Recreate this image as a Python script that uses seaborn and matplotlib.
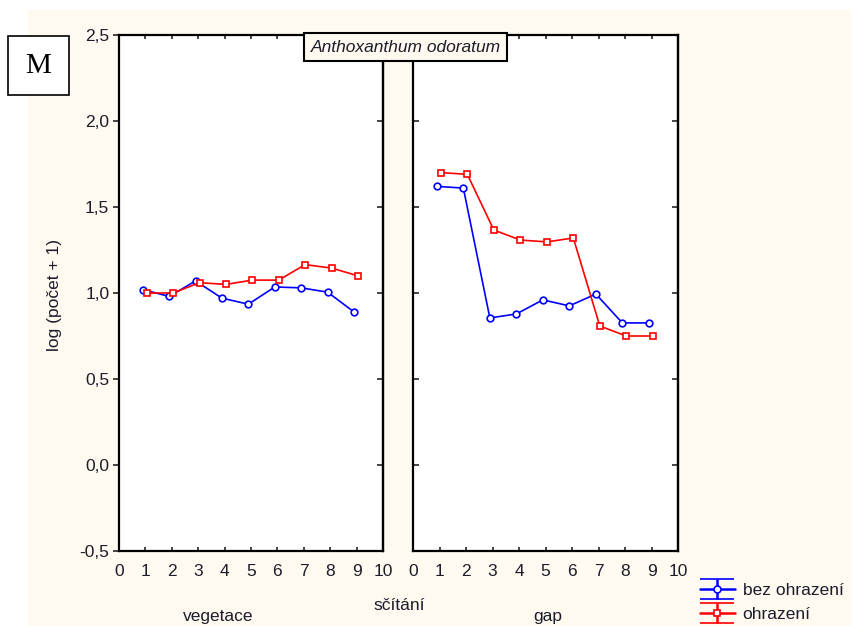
import numpy as np
import pandas as pd
import matplotlib
matplotlib.use("Agg")
import matplotlib.pyplot as plt
from matplotlib.patches import Rectangle
from matplotlib.ticker import FuncFormatter
from matplotlib.legend_handler import HandlerErrorbar
import seaborn as sns

# Sampling occasions (sčítání) and mean log(count + 1) per treatment
scitani = [1, 2, 3, 4, 5, 6, 7, 8, 9]
vegetace_bez = [1.02, 0.98, 1.07, 0.97, 0.935, 1.035, 1.03, 1.005, 0.89]
vegetace_ohr = [1.00, 1.00, 1.06, 1.05, 1.075, 1.075, 1.165, 1.145, 1.10]
gap_bez = [1.62, 1.61, 0.855, 0.878, 0.96, 0.925, 0.994, 0.826, 0.826]
gap_ohr = [1.70, 1.69, 1.366, 1.308, 1.297, 1.32, 0.808, 0.75, 0.75]

skupiny = ["bez ohrazení", "ohrazení"]
plochy = ["vegetace", "gap"]
nazev = "Anthoxanthum odoratum"
y_popis = "log (počet + 1)"
x_popis = "sčítání"
y_ticks = [-0.5, 0.0, 0.5, 1.0, 1.5, 2.0, 2.5]
x_ticks = list(range(0, 11))

barvy = {"bez ohrazení": "#0000ff", "ohrazení": "#ff0000"}
znacky = {"bez ohrazení": "o", "ohrazení": "s"}
posun = {"bez ohrazení": -0.1, "ohrazení": 0.05}  # small dodge so markers don't overlap

rows = []
for plocha, bez, ohr in [("vegetace", vegetace_bez, vegetace_ohr),
                         ("gap", gap_bez, gap_ohr)]:
    for skupina, vals in [("bez ohrazení", bez), ("ohrazení", ohr)]:
        for s, v in zip(scitani, vals):
            rows.append({"plocha": plocha, "skupina": skupina,
                         "scitani": s, "hodnota": v})
df = pd.DataFrame(rows)
df["x"] = df["scitani"] + df["skupina"].map(posun)

sns.set_theme(style="ticks")
plt.rcParams["font.family"] = ["Liberation Sans", "DejaVu Sans"]

W, H = 851, 626
fig = plt.figure(figsize=(W / 100, H / 100), dpi=100, facecolor="white")

cream = "#fffaf0"
fig.patches.append(Rectangle((28 / W, 0), 1 - 28 / W, 1 - 10 / H,
                             transform=fig.transFigure, facecolor=cream,
                             edgecolor="none", zorder=-10))

FS = 12.5
txt_col = "#1c1c2c"
comma = FuncFormatter(lambda v, p: f"{v:.1f}".replace(".", ","))

ax_bottom = 1 - 551 / H
ax_height = (551 - 35) / H
axes = [fig.add_axes([119 / W, ax_bottom, 264 / W, ax_height]),
        fig.add_axes([413 / W, ax_bottom, 265 / W, ax_height])]

for ax, plocha in zip(axes, plochy):
    sub = df[df["plocha"] == plocha]
    sns.lineplot(data=sub, x="x", y="hodnota", hue="skupina", style="skupina",
                 hue_order=skupiny, style_order=skupiny, palette=barvy,
                 markers=znacky, dashes=False, estimator=None, sort=False,
                 linewidth=1.2, markersize=4.8, legend=False, ax=ax)
    for line in ax.lines:
        c = line.get_color()
        line.set_markeredgecolor(c)
        line.set_markerfacecolor("white")
        line.set_markeredgewidth(1.2)

    ax.set_facecolor("white")
    ax.set_xlim(0, 10)
    ax.set_ylim(-0.5, 2.5)
    ax.set_xticks(x_ticks)
    ax.set_yticks(y_ticks)
    ax.yaxis.set_major_formatter(comma)
    ax.set_xlabel("")
    ax.set_ylabel("")
    for sp in ax.spines.values():
        sp.set_visible(True)
        sp.set_linewidth(1.6)
        sp.set_color("black")
    ax.tick_params(axis="x", direction="in", top=True, bottom=True, length=3,
                   width=1.2, labelsize=FS, labelcolor=txt_col, pad=9)
    sec = ax.secondary_yaxis("right")
    sec.set_yticks(y_ticks)
    sec.tick_params(direction="in", length=4, width=1.2, labelright=False)
    sec.spines["right"].set_linewidth(1.6)

axes[0].tick_params(axis="y", direction="out", length=4, width=1.2,
                    labelsize=FS, labelcolor=txt_col, pad=3)
axes[1].tick_params(axis="y", direction="in", length=4, width=1.2,
                    labelleft=False)

# axis captions
fig.text(55 / W, 1 - 295 / H, y_popis, rotation=90, ha="center", va="center",
         fontsize=FS, color=txt_col)
fig.text(218 / W, 1 - 616 / H, plochy[0], ha="center", va="center",
         fontsize=FS, color=txt_col)
fig.text(399 / W, 1 - 606 / H, x_popis, ha="center", va="center",
         fontsize=FS, color=txt_col)
fig.text(548 / W, 1 - 617 / H, plochy[1], ha="center", va="center",
         fontsize=FS, color=txt_col)

# species title box spanning both panels
fig.text(405.5 / W, 1 - 47 / H, nazev, ha="center", va="center",
         fontsize=FS, style="italic", color=txt_col, zorder=20,
         bbox=dict(boxstyle="square,pad=0.38", facecolor=cream,
                   edgecolor="black", linewidth=1.5))

# panel letter
fig.patches.append(Rectangle((8 / W, 1 - 95 / H), 61 / W, 59 / H,
                             transform=fig.transFigure, facecolor="white",
                             edgecolor="black", linewidth=1.2, zorder=5))
fig.text(38.5 / W, 1 - 66 / H, "M", ha="center", va="center", fontsize=21,
         family=["Liberation Serif", "DejaVu Serif"], color="black", zorder=6)

# legend with mean ± error glyphs
handles = []
for sk in skupiny:
    h = axes[1].errorbar([np.nan], [np.nan], yerr=[np.nan], color=barvy[sk],
                         marker=znacky[sk], markersize=5,
                         markerfacecolor="white", markeredgecolor=barvy[sk],
                         markeredgewidth=1.2, linewidth=1.8, elinewidth=1.8,
                         capsize=12.5, capthick=1.8, label=sk)
    handles.append(h)
fig.legend(handles=handles, labels=skupiny, loc="upper left",
           bbox_to_anchor=(700 / W, 1 - 583 / H), frameon=False,
           borderpad=0, borderaxespad=0, handlelength=2.0,
           handletextpad=0.45, labelspacing=0.5, fontsize=FS,
           labelcolor=txt_col,
           handler_map={type(handles[0]): HandlerErrorbar(xerr_size=0.58)})

fig.savefig("out.png", dpi=100, facecolor=fig.get_facecolor())
